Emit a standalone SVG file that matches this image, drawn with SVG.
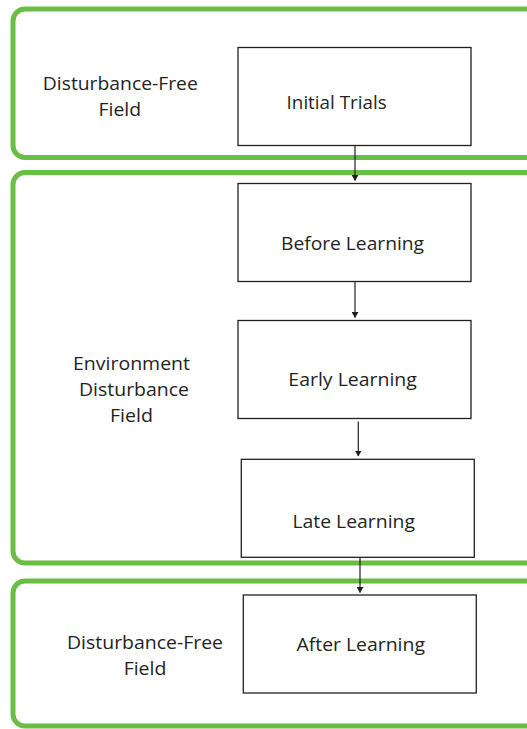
<svg xmlns="http://www.w3.org/2000/svg" width="527" height="729" viewBox="0 0 527 729">
<style>
.field{fill:none;stroke:#6abd45;stroke-width:5}
.node{fill:#fff;stroke:#231f20;stroke-width:1.3}
.lbl{font-family:"Open Sans","Liberation Sans",sans-serif;font-size:18.5px;fill:#231f20;text-anchor:middle}
.edge{stroke:#231f20;stroke-width:1.2;fill:none}
</style>
<defs>
<marker id="ah" markerWidth="6" markerHeight="7" refX="5.5" refY="3.5" orient="auto" markerUnits="userSpaceOnUse">
<path d="M0,0 L6,3.5 L0,7 z" fill="#231f20"/>
</marker>
</defs>
<rect width="527" height="729" fill="#fff"/>
<g id="field1">
<rect class="field" x="13" y="9" width="540" height="148.5" rx="12"/>
<text class="lbl" x="120.3" y="90" textLength="155" lengthAdjust="spacingAndGlyphs">Disturbance-Free</text>
<text class="lbl" x="119.8" y="116" textLength="42.5" lengthAdjust="spacingAndGlyphs">Field</text>
</g>
<g id="field2">
<rect class="field" x="13" y="172.5" width="540" height="390.5" rx="12"/>
<text class="lbl" x="131.5" y="370" textLength="117" lengthAdjust="spacingAndGlyphs">Environment</text>
<text class="lbl" x="134" y="396" textLength="110" lengthAdjust="spacingAndGlyphs">Disturbance</text>
<text class="lbl" x="131.5" y="422" textLength="43" lengthAdjust="spacingAndGlyphs">Field</text>
</g>
<g id="field3">
<rect class="field" x="13" y="581" width="540" height="145" rx="12"/>
<text class="lbl" x="145" y="648.7" textLength="156" lengthAdjust="spacingAndGlyphs">Disturbance-Free</text>
<text class="lbl" x="145" y="675" textLength="42.7" lengthAdjust="spacingAndGlyphs">Field</text>
</g>
<g id="connectors">
<line class="edge" x1="355" y1="145.5" x2="355" y2="180.5" marker-end="url(#ah)"/>
<line class="edge" x1="355" y1="282" x2="355" y2="317.5" marker-end="url(#ah)"/>
<line class="edge" x1="358.3" y1="421.5" x2="358.3" y2="456" marker-end="url(#ah)"/>
<line class="edge" x1="360" y1="557.5" x2="360" y2="592.5" marker-end="url(#ah)"/>
</g>
<g id="initial-trials">
<rect class="node" x="238" y="47.5" width="233" height="98"/>
<text class="lbl" x="336.6" y="109" textLength="100" lengthAdjust="spacingAndGlyphs">Initial Trials</text>
</g>
<g id="before-learning">
<rect class="node" x="238" y="183.5" width="233" height="98"/>
<text class="lbl" x="352.5" y="250" textLength="143" lengthAdjust="spacingAndGlyphs">Before Learning</text>
</g>
<g id="early-learning">
<rect class="node" x="238" y="320.5" width="233" height="98"/>
<text class="lbl" x="352.6" y="386" textLength="128.5" lengthAdjust="spacingAndGlyphs">Early Learning</text>
</g>
<g id="late-learning">
<rect class="node" x="241.3" y="459.3" width="233" height="98"/>
<text class="lbl" x="353.7" y="527.7" textLength="122.5" lengthAdjust="spacingAndGlyphs">Late Learning</text>
</g>
<g id="after-learning">
<rect class="node" x="243.3" y="595" width="233" height="98"/>
<text class="lbl" x="360.7" y="651.4" textLength="128.5" lengthAdjust="spacingAndGlyphs">After Learning</text>
</g>
</svg>
